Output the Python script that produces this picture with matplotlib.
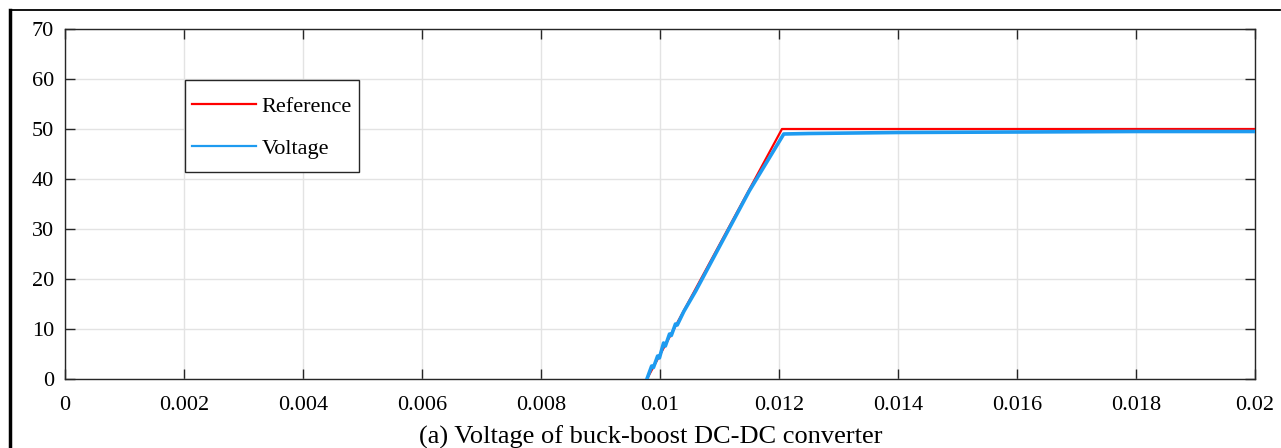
import matplotlib
matplotlib.use("Agg")
import matplotlib.pyplot as plt
from matplotlib.lines import Line2D

# reference voltage (V) vs time (s)
ref_t = [0.00978, 0.01205, 0.02]
ref_v = [0.0, 50.0, 50.0]

# measured converter voltage, hand-read breakpoints incl. start-up ripple
volt_t = [0.00978, 0.00986, 0.00989, 0.00996, 0.00999, 0.01006, 0.01009,
          0.01016, 0.01019, 0.01026, 0.01029, 0.01040, 0.01060, 0.01100,
          0.01150, 0.01208, 0.0125, 0.0140, 0.0160, 0.0180, 0.0200]
volt_v = [0.0, 2.6, 2.3, 4.6, 4.2, 7.2, 6.6,
          9.0, 8.7, 11.0, 10.8, 13.5, 17.6, 26.5,
          37.6, 49.0, 49.1, 49.3, 49.4, 49.5, 49.5]

xticks = [0, 0.002, 0.004, 0.006, 0.008, 0.01, 0.012, 0.014, 0.016, 0.018, 0.02]
xtick_labels = ["0", "0.002", "0.004", "0.006", "0.008", "0.01", "0.012",
                "0.014", "0.016", "0.018", "0.02"]
yticks = [0, 10, 20, 30, 40, 50, 60, 70]

plt.rcParams["font.family"] = ["Liberation Serif", "DejaVu Serif"]

fig = plt.figure(figsize=(12.81, 4.48), dpi=100)
ax = fig.add_axes([65 / 1281, 69 / 448, 1190 / 1281, 350 / 448])

ax.plot(ref_t, ref_v, color="#FF0000", lw=1.6, label="Reference", zorder=3)
ax.plot(volt_t, volt_v, color="#1E9BF0", lw=2.6, label="Voltage", zorder=4)

ax.set_xlim(0, 0.02)
ax.set_ylim(0, 70)
ax.set_xticks(xticks)
ax.set_xticklabels(xtick_labels)
ax.set_yticks(yticks)
ax.grid(True, color="#E3E3E3", lw=1)
ax.set_axisbelow(True)
ax.tick_params(direction="in", length=7, width=1, color="#262626",
               labelsize=16, top=True, right=True)
ax.tick_params(axis="x", pad=12)
ax.tick_params(axis="y", pad=8)
for s in ax.spines.values():
    s.set_color("#262626")
    s.set_linewidth(1)

leg = ax.legend(loc="upper left", bbox_to_anchor=(0.101, 0.854),
                borderaxespad=0, fontsize=16, fancybox=False, framealpha=1,
                edgecolor="#262626", handlelength=2.9, handletextpad=0.25,
                handleheight=2.16, labelspacing=0.24, borderpad=0.3)
leg.get_frame().set_linewidth(1)
for h in leg.get_lines():
    h.set_linewidth(1.6)
    # centre the handle on the text line
    h.set_ydata([y - 3.5 for y in h.get_ydata()])

fig.text(651 / 1281, 11 / 448, "(a) Voltage of buck-boost DC-DC converter",
         ha="center", va="center", fontsize=19)

# page frame lines
fig.add_artist(Line2D([10 / 1281, 10 / 1281], [0, 438 / 448],
                      color="black", lw=2.5, transform=fig.transFigure))
fig.add_artist(Line2D([10 / 1281, 1280 / 1281], [438 / 448, 438 / 448],
                      color="black", lw=1.3, transform=fig.transFigure))

fig.savefig("out.png", dpi=100)
